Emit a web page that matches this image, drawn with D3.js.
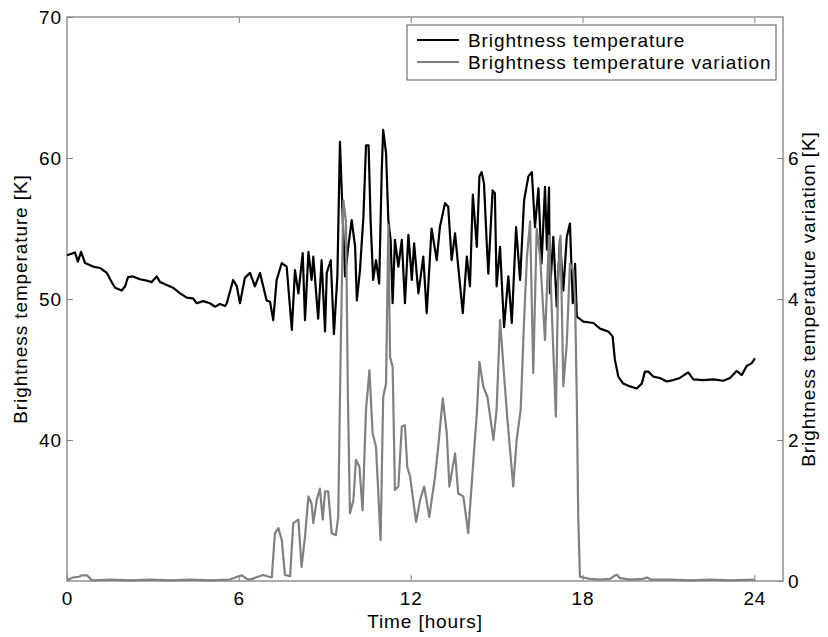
<!DOCTYPE html>
<html>
<head>
<meta charset="utf-8">
<script src="https://cdn.jsdelivr.net/npm/d3@7"></script>
<style>
  body { margin: 0; background: #fff; }
  svg text { font-family: "Liberation Sans", Arial, sans-serif; font-size: 19px; letter-spacing: 0.9px; fill: #000; }
</style>
</head>
<body>
<div id="chart"></div>
<script>
/* Brightness temperature over a day, two y axes */

// time in hours, brightness temperature in K (left axis)
const tempTime = [0.00,0.28,0.38,0.49,0.63,0.91,1.15,1.39,1.56,1.68,1.91,2.03,2.13,2.30,2.55,2.78,2.96,3.13,3.25,3.48,
    3.70,3.95,4.18,4.40,4.53,4.75,4.99,5.17,5.34,5.52,5.58,5.80,5.93,6.04,6.21,6.39,6.56,6.74,6.97,7.09,
    7.20,7.32,7.50,7.67,7.85,7.96,8.08,8.23,8.31,8.43,8.54,8.60,8.77,8.89,9.01,9.07,9.21,9.32,9.44,9.53,
    9.63,9.71,9.82,9.94,10.06,10.12,10.23,10.35,10.44,10.53,10.60,10.69,10.79,10.90,10.99,11.04,11.14,11.22,11.30,11.37,
    11.45,11.57,11.69,11.80,11.92,12.04,12.12,12.27,12.44,12.56,12.73,12.91,13.02,13.20,13.31,13.43,13.55,13.66,13.82,13.96,
    14.07,14.17,14.31,14.40,14.48,14.56,14.65,14.71,14.86,14.94,15.00,15.12,15.26,15.41,15.53,15.68,15.82,15.96,16.11,16.23,
    16.34,16.46,16.57,16.69,16.76,16.83,16.86,16.98,17.10,17.21,17.33,17.45,17.56,17.66,17.74,17.80,18.03,18.38,18.61,18.90,
    19.05,19.13,19.25,19.42,19.66,19.89,20.07,20.18,20.30,20.47,20.70,20.94,21.17,21.40,21.69,21.87,22.22,22.57,22.92,23.15,
    23.38,23.56,23.73,23.91,24.02];
const tempValue = [53.1,53.3,52.65,53.35,52.55,52.3,52.2,51.85,51.2,50.8,50.6,50.9,51.55,51.6,51.4,51.3,51.2,51.6,51.2,51.0,
    50.8,50.4,50.1,50.05,49.7,49.85,49.7,49.45,49.65,49.5,49.7,51.35,50.9,49.7,51.5,51.85,50.9,51.85,49.9,49.8,
    48.5,51.35,52.55,52.3,47.8,52.05,50.4,53.25,48.5,53.35,51.35,53.0,48.6,52.75,47.7,51.85,52.75,47.5,51.6,61.15,
    55.6,51.6,53.7,55.6,53.7,49.9,52.05,55.85,60.9,60.9,55.6,51.35,52.75,51.1,59.15,62.0,60.35,55.6,54.2,49.7,
    54.2,52.3,54.2,49.7,54.55,51.35,53.95,50.4,53.0,49.0,55.0,52.75,55.1,56.8,56.55,52.75,54.65,52.3,49.0,53.0,
    50.9,57.4,53.7,58.7,59.0,58.2,54.2,51.8,57.7,57.5,50.9,53.7,48.0,51.6,48.3,55.1,51.35,57.0,58.7,59.0,
    55.1,57.85,52.5,57.95,53.5,57.9,50.4,54.4,49.45,54.2,50.6,54.4,55.35,49.7,52.5,48.75,48.4,48.3,47.9,47.7,
    47.35,45.7,44.5,44.0,43.8,43.65,44.0,44.85,44.85,44.5,44.4,44.15,44.25,44.4,44.8,44.3,44.25,44.3,44.2,44.4,
    44.9,44.6,45.25,45.45,45.8];

// time in hours, brightness temperature variation in K (right axis)
const varTime = [0.00,0.21,0.42,0.52,0.70,0.87,1.50,2.20,2.90,3.60,4.29,4.99,5.69,5.94,6.11,6.28,6.39,6.85,7.15,7.26,
    7.38,7.50,7.61,7.79,7.90,8.08,8.19,8.31,8.43,8.54,8.60,8.72,8.83,8.93,9.01,9.12,9.24,9.39,9.47,9.56,
    9.65,9.74,9.81,9.88,10.00,10.09,10.21,10.32,10.44,10.56,10.67,10.79,10.95,11.04,11.14,11.22,11.28,11.37,11.45,11.57,
    11.69,11.80,11.88,11.98,12.19,12.33,12.47,12.65,12.85,12.96,13.12,13.26,13.35,13.55,13.66,13.84,14.01,14.19,14.31,14.40,
    14.54,14.68,14.89,15.00,15.12,15.23,15.37,15.47,15.58,15.70,15.84,15.96,16.06,16.17,16.28,16.40,16.52,16.69,16.83,16.93,
    17.07,17.15,17.23,17.33,17.45,17.56,17.68,17.74,17.80,17.85,17.91,18.26,18.61,18.96,19.10,19.20,19.31,19.66,20.11,20.25,
    20.39,21.05,21.75,22.45,23.15,24.02];
const varValue = [0.01,0.05,0.06,0.08,0.08,0.01,0.02,0.01,0.02,0.01,0.02,0.01,0.02,0.06,0.08,0.03,0.02,0.085,0.05,0.68,
    0.75,0.58,0.085,0.07,0.82,0.87,0.2,0.63,1.2,1.1,0.82,1.15,1.31,0.87,1.27,1.27,0.68,0.65,0.91,3.37,
    5.4,5.1,2.57,0.96,1.15,1.72,1.62,1.0,2.43,2.99,2.1,1.9,0.58,2.61,2.8,5.05,3.18,3.04,1.29,1.34,
    2.19,2.21,1.62,1.48,0.84,1.15,1.34,0.91,1.48,1.9,2.59,2.1,1.34,1.81,1.24,1.2,0.68,1.72,2.38,3.11,
    2.75,2.61,2.0,2.43,3.7,3.09,2.33,1.86,1.34,2.0,2.43,3.7,4.6,5.1,2.95,5.0,4.6,3.42,4.9,3.8,
    2.33,4.3,4.9,2.76,3.37,4.5,4.4,4.0,2.57,0.91,0.06,0.03,0.02,0.03,0.07,0.09,0.04,0.02,0.03,0.05,
    0.02,0.02,0.01,0.02,0.01,0.02];

const xTicks = [0, 6, 12, 18, 24];
const leftTicks = [40, 50, 60, 70];
const rightTicks = [0, 2, 4, 6];
const seriesNames = ["Brightness temperature", "Brightness temperature variation"];
const seriesColors = ["#000000", "#808080"];

const width = 828, height = 637,
      margin = ({top: 17, right: 45, bottom: 56, left: 67});

let svg = d3.select("#chart")
    .append("svg")
    .attr("width", width)
    .attr("height", height);

let x = d3.scaleLinear()
    .domain([0, 25])
    .range([margin.left, width - margin.right]);

let yLeft = d3.scaleLinear()
    .domain([30, 70])
    .range([height - margin.bottom, margin.top]);

let yRight = d3.scaleLinear()
    .domain([0, 8])
    .range([height - margin.bottom, margin.top]);

const axisColor = "#808080";

// ticks point inward, like the original
const styleAxis = g => {
    g.select(".domain").remove();
    g.selectAll(".tick line").attr("stroke", axisColor);
    g.selectAll(".tick text").attr("fill", "#000");
};

svg.append("g")
    .attr("transform", `translate(0,${height - margin.bottom})`)
    .call(d3.axisBottom(x).tickValues(xTicks).tickSize(-6).tickPadding(11))
    .call(styleAxis);

svg.append("g")
    .attr("transform", `translate(0,${margin.top})`)
    .call(d3.axisTop(x).tickValues(xTicks.filter(d => d > 0)).tickSize(-6).tickFormat(""))
    .call(styleAxis);

svg.append("g")
    .attr("transform", `translate(${margin.left},0)`)
    .call(d3.axisLeft(yLeft).tickValues(leftTicks).tickSize(-6).tickPadding(5))
    .call(styleAxis);

svg.append("g")
    .attr("transform", `translate(${width - margin.right},0)`)
    .call(d3.axisRight(yRight).tickValues(rightTicks).tickSize(-6).tickPadding(5))
    .call(styleAxis);

// frame
svg.append("rect")
    .attr("x", margin.left)
    .attr("y", margin.top)
    .attr("width", width - margin.left - margin.right)
    .attr("height", height - margin.top - margin.bottom)
    .attr("fill", "none")
    .attr("stroke", axisColor)
    .attr("stroke-width", 1.3);

const tempData = tempTime.map((t, i) => [t, tempValue[i]]);
const varData = varTime.map((t, i) => [t, varValue[i]]);

svg.append("path")
    .datum(tempData)
    .attr("fill", "none")
    .attr("stroke", seriesColors[0])
    .attr("stroke-width", 2.2)
    .attr("stroke-linejoin", "round")
    .attr("d", d3.line().x(d => x(d[0])).y(d => yLeft(d[1])));

svg.append("path")
    .datum(varData)
    .attr("fill", "none")
    .attr("stroke", seriesColors[1])
    .attr("stroke-width", 2.2)
    .attr("stroke-linejoin", "round")
    .attr("d", d3.line().x(d => x(d[0])).y(d => yRight(d[1])));

// axis titles
svg.append("text")
    .attr("x", (margin.left + width - margin.right) / 2)
    .attr("y", 628)
    .attr("text-anchor", "middle")
    .text("Time [hours]");

svg.append("text")
    .attr("transform", `translate(27,${(margin.top + height - margin.bottom) / 2}) rotate(-90)`)
    .attr("text-anchor", "middle")
    .text("Brightness temperature [K]");

svg.append("text")
    .attr("transform", `translate(815,${(margin.top + height - margin.bottom) / 2}) rotate(-90)`)
    .attr("text-anchor", "middle")
    .text("Brightness temperature variation [K]");

// legend
let legend = svg.append("g").attr("transform", "translate(407,25)");

legend.append("rect")
    .attr("width", 369)
    .attr("height", 55)
    .attr("fill", "#fff")
    .attr("stroke", "#555")
    .attr("stroke-width", 1);

let item = legend.selectAll(".item")
    .data(seriesNames)
    .join("g")
    .attr("class", "item")
    .attr("transform", (d, i) => `translate(0,${15 + i * 22})`);

item.append("line")
    .attr("x1", 10).attr("x2", 52)
    .attr("stroke", (d, i) => seriesColors[i])
    .attr("stroke-width", 2.2);

item.append("text")
    .attr("x", 61)
    .attr("dy", "0.36em")
    .text(d => d);
</script>
</body>
</html>
